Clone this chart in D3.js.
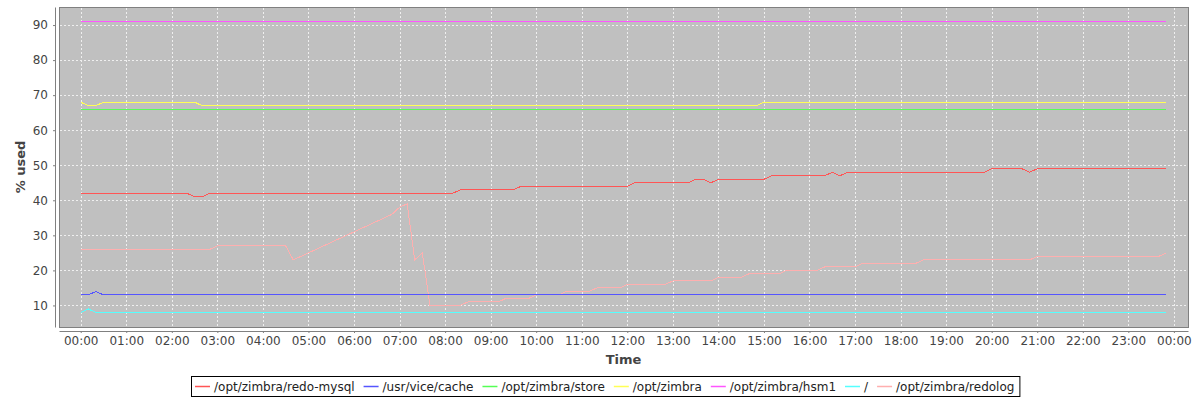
<!DOCTYPE html>
<html>
<head>
<meta charset="utf-8">
<script src="https://cdn.jsdelivr.net/npm/d3@7/dist/d3.min.js"></script>
<style>
  html, body { margin: 0; padding: 0; background: #ffffff; }
  svg { display: block; font-family: "DejaVu Sans", sans-serif; }
</style>
</head>
<body>
<svg id="chart" width="1200" height="400"></svg>
<script>
// ---- data (time "HH:MM", % used) : vertices of each series ----
const seriesNames = ["/opt/zimbra/redo-mysql", "/usr/vice/cache", "/opt/zimbra/store", "/opt/zimbra", "/opt/zimbra/hsm1", "/", "/opt/zimbra/redolog"];
const seriesColors = ["#FF5555", "#5555FF", "#55FF55", "#FFFF55", "#FF55FF", "#55FFFF", "#FFAFAF"];

const redoMysql = [["00:00",42],["02:20",42],["02:30",41],["02:40",41],["02:50",42],["08:10",42],["08:20",43],["09:30",43],["09:40",44],["12:00",44],["12:10",45],["13:20",45],["13:30",46],["13:40",46],["13:50",45],["14:00",46],["15:00",46],["15:10",47],["16:20",47],["16:30",48],["16:40",47],["16:50",48],["19:50",48],["20:00",49],["20:40",49],["20:50",48],["21:00",49],["23:50",49]];
const usrViceCache = [["00:00",13],["00:10",13],["00:20",14],["00:30",13],["23:50",13]];
const optZimbraStore = [["00:00",66],["23:50",66]];
const optZimbra = [["00:00",68],["00:10",67],["00:20",67],["00:30",68],["02:30",68],["02:40",67],["14:50",67],["15:00",68],["23:50",68]];
const optZimbraHsm1 = [["00:00",91],["23:50",91]];
const rootFs = [["00:00",8],["00:10",9],["00:20",8],["23:50",8]];
const redolog = [["00:00",26],["02:50",26],["03:00",27],["04:30",27],["04:40",23],["04:50",24],["05:00",25],["05:10",26],["05:20",27],["05:30",28],["05:40",29],["05:50",30],["06:00",31],["06:10",32],["06:20",33],["06:30",34],["06:40",35],["06:50",36],["07:00",38],["07:10",39],["07:20",23],["07:30",25],["07:40",10],["08:20",10],["08:30",11],["09:10",11],["09:20",12],["09:50",12],["10:00",13],["10:30",13],["10:40",14],["11:10",14],["11:20",15],["11:50",15],["12:00",16],["12:50",16],["13:00",17],["13:50",17],["14:00",18],["14:30",18],["14:40",19],["15:20",19],["15:30",20],["16:10",20],["16:20",21],["17:00",21],["17:10",22],["18:20",22],["18:30",23],["20:50",23],["21:00",24],["23:40",24],["23:50",25]];

const yTicks = [10, 20, 30, 40, 50, 60, 70, 80, 90];
const xAxisTitle = "Time";
const yAxisTitle = "% used";

const allSeries = [redoMysql, usrViceCache, optZimbraStore, optZimbra, optZimbraHsm1, rootFs, redolog];

// ---- layout ----
const plot = { left: 59, right: 1188, top: 7, bottom: 327 };
const svg = d3.select("#chart");

const parseT = d3.timeParse("%Y-%m-%d %H:%M");
const toDate = s => parseT("2000-01-01 " + s);
const data = allSeries.map(s => s.map(([t, v]) => ({ t: toDate(t), v })));

const allT = data.flat().map(d => +d.t);
const allV = data.flat().map(d => d.v);
const tMin = d3.min(allT), tMax = d3.max(allT);
const tPad = (tMax - tMin) * 0.02;
const vMin = d3.min(allV), vMax = d3.max(allV);
const vPad = (vMax - vMin) * 0.05;

const x = d3.scaleTime().domain([new Date(tMin - tPad), new Date(tMax + tPad)]).range([plot.left, plot.right]);
const y = d3.scaleLinear().domain([vMin - vPad, vMax + vPad]).range([plot.bottom, plot.top]);

// plot background
svg.append("rect")
  .attr("x", plot.left + 0.5).attr("y", plot.top + 0.5)
  .attr("width", plot.right - plot.left).attr("height", plot.bottom - plot.top)
  .attr("fill", "#C0C0C0");

const xTickVals = d3.timeHour.range(toDate("00:00"), new Date(+toDate("00:00") + 24 * 3600e3 + 1));
const fmt = d3.timeFormat("%H:%M");

// gridlines
const grid = svg.append("g").attr("stroke", "#efefef").attr("stroke-width", 1)
  .attr("stroke-dasharray", "2,2").attr("shape-rendering", "crispEdges");
xTickVals.forEach(d => {
  const px = Math.round(x(d)) + 0.5;
  grid.append("line").attr("x1", px).attr("x2", px).attr("y1", plot.top + 1).attr("y2", plot.bottom);
});
yTicks.forEach(v => {
  const py = Math.round(y(v)) + 0.5;
  grid.append("line").attr("x1", plot.left + 1).attr("x2", plot.right).attr("y1", py).attr("y2", py);
});

// series lines (first series drawn on top), aliased 1px like the original
const line = d3.line().x(d => x(d.t)).y(d => y(d.v));
const linesG = svg.append("g").attr("fill", "none").attr("stroke-width", 1)
  .attr("shape-rendering", "crispEdges");
for (let i = data.length - 1; i >= 0; i--) {
  linesG.append("path").attr("d", line(data[i])).attr("stroke", seriesColors[i]);
}

// plot border
svg.append("rect")
  .attr("x", plot.left + 0.5).attr("y", plot.top + 0.5)
  .attr("width", plot.right - plot.left).attr("height", plot.bottom - plot.top)
  .attr("fill", "none").attr("stroke", "#808080").attr("stroke-width", 1);

// axes
const xAxis = d3.axisBottom(x).tickValues(xTickVals).tickFormat(fmt).tickSizeInner(2).tickSizeOuter(0).tickPadding(3);
const gx = svg.append("g").attr("transform", `translate(0,${plot.bottom + 4})`).call(xAxis);
const yAxis = d3.axisLeft(y).tickValues(yTicks).tickFormat(d3.format("d")).tickSizeInner(2).tickSizeOuter(0).tickPadding(5);
const gy = svg.append("g").attr("transform", `translate(${plot.left - 4},0)`).call(yAxis);

[gx, gy].forEach(g => {
  g.select(".domain").attr("stroke", "#808080");
  g.selectAll(".tick line").attr("stroke", "#808080");
  g.selectAll("text").attr("fill", "#444444").attr("font-size", 12).attr("font-family", "DejaVu Sans");
});
gx.select(".domain").attr("d", `M${plot.left + 0.5},0.5H${plot.right + 0.5}`);
gy.select(".domain").attr("d", `M0.5,${plot.top + 0.5}V${plot.bottom + 0.5}`);

// axis titles
svg.append("text").attr("x", (plot.left + plot.right) / 2).attr("y", 364)
  .attr("text-anchor", "middle").attr("font-size", 13).attr("font-weight", "bold")
  .attr("fill", "#444444").text(xAxisTitle);
svg.append("text").attr("transform", `translate(25,${(plot.top + plot.bottom) / 2}) rotate(-90)`)
  .attr("text-anchor", "middle").attr("font-size", 13).attr("font-weight", "bold")
  .attr("fill", "#444444").text(yAxisTitle);

// legend
const legend = svg.append("g");
const itemsG = legend.append("g");
const itemGap = 9;
let cx = 0;
seriesNames.forEach((name, i) => {
  const g = itemsG.append("g").attr("transform", `translate(${cx},0)`);
  g.append("line").attr("x1", 0).attr("x2", 15).attr("y1", 0.5).attr("y2", 0.5)
    .attr("stroke", seriesColors[i]).attr("stroke-width", 1.5);
  const t = g.append("text").attr("x", 19).attr("y", 4.5).attr("font-size", 12)
    .attr("fill", "#222222").text(name);
  const w = t.node().getComputedTextLength();
  cx += 19 + w + itemGap;
});
const legW = cx - itemGap;
const boxW = legW + 9, boxH = 20;
const boxX = Math.round(605 - boxW / 2), boxY = 376;
legend.insert("rect", ":first-child").attr("x", boxX + 0.5).attr("y", boxY + 0.5)
  .attr("width", boxW).attr("height", boxH).attr("fill", "#ffffff").attr("stroke", "#000000");
itemsG.attr("transform", `translate(${boxX + 4},${boxY + 10})`);
</script>
</body>
</html>
